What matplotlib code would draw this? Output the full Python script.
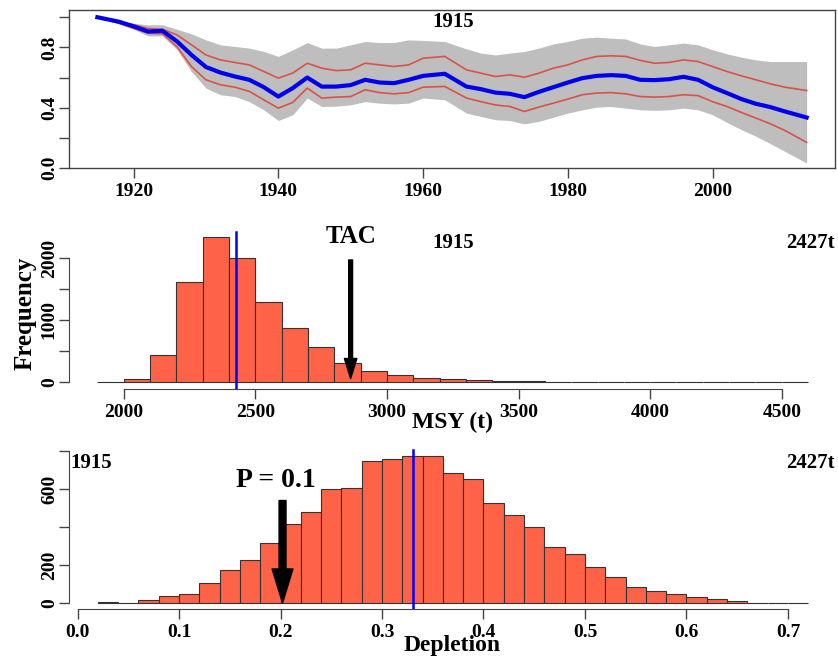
import matplotlib
matplotlib.use("Agg")
import matplotlib.pyplot as plt
import numpy as np

plt.rcParams["font.family"] = ["Liberation Serif", "DejaVu Serif"]
plt.rcParams["font.weight"] = "bold"

# ---- depletion trajectories (fraction of unfished biomass) ----
years = [1915, 1918, 1920, 1922, 1924, 1926, 1928, 1930, 1932, 1934, 1936, 1938,
         1940, 1942, 1944, 1946, 1948, 1950, 1952, 1954, 1956, 1958, 1960, 1963,
         1966, 1968, 1970, 1972, 1974, 1976, 1978, 1980, 1982, 1984, 1986, 1988,
         1990, 1992, 1994, 1996, 1998, 2000, 2002, 2004, 2006, 2008, 2010, 2013]
median = [1.00, 0.97, 0.94, 0.905, 0.91, 0.84, 0.75, 0.67, 0.633, 0.607, 0.585, 0.536,
          0.474, 0.53, 0.60, 0.54, 0.54, 0.55, 0.585, 0.567, 0.563, 0.585, 0.611, 0.625,
          0.54, 0.523, 0.50, 0.492, 0.47, 0.505, 0.536, 0.567, 0.596, 0.611, 0.616, 0.611,
          0.585, 0.583, 0.589, 0.605, 0.585, 0.536, 0.497, 0.457, 0.426, 0.404, 0.375, 0.335]
upper_q = [1.00, 0.965, 0.95, 0.925, 0.92, 0.883, 0.817, 0.75, 0.717, 0.70, 0.684, 0.64,
           0.596, 0.63, 0.695, 0.662, 0.646, 0.651, 0.695, 0.684, 0.673, 0.684, 0.728, 0.74,
           0.651, 0.629, 0.607, 0.618, 0.602, 0.629, 0.662, 0.684, 0.717, 0.74, 0.744, 0.74,
           0.714, 0.695, 0.70, 0.717, 0.706, 0.673, 0.64, 0.611, 0.585, 0.558, 0.536, 0.514]
lower_q = [1.00, 0.96, 0.927, 0.894, 0.89, 0.805, 0.673, 0.585, 0.552, 0.536, 0.508, 0.452,
           0.397, 0.435, 0.53, 0.464, 0.47, 0.474, 0.519, 0.50, 0.492, 0.50, 0.536, 0.541,
           0.464, 0.44, 0.418, 0.408, 0.375, 0.404, 0.43, 0.457, 0.486, 0.497, 0.50, 0.492,
           0.474, 0.47, 0.474, 0.486, 0.48, 0.44, 0.408, 0.368, 0.331, 0.293, 0.249, 0.17]
env_high = [1.00, 0.975, 0.96, 0.95, 0.95, 0.92, 0.89, 0.85, 0.817, 0.806, 0.795, 0.773,
            0.74, 0.784, 0.832, 0.795, 0.795, 0.817, 0.839, 0.832, 0.832, 0.85, 0.846, 0.839,
            0.79, 0.762, 0.75, 0.762, 0.773, 0.795, 0.823, 0.839, 0.861, 0.868, 0.861, 0.856,
            0.823, 0.806, 0.817, 0.828, 0.817, 0.784, 0.757, 0.735, 0.717, 0.706, 0.706, 0.706]
env_low = [1.00, 0.955, 0.92, 0.876, 0.876, 0.784, 0.64, 0.53, 0.486, 0.474, 0.44, 0.386,
           0.315, 0.353, 0.464, 0.408, 0.41, 0.419, 0.44, 0.43, 0.425, 0.43, 0.464, 0.453,
           0.364, 0.342, 0.32, 0.315, 0.293, 0.309, 0.337, 0.364, 0.386, 0.404, 0.408, 0.397,
           0.386, 0.383, 0.386, 0.397, 0.386, 0.353, 0.302, 0.254, 0.21, 0.161, 0.11, 0.033]

# ---- MSY posterior histogram ----
msy_bin_start = 1900
msy_bin_width = 100
msy_counts = [0, 40, 433, 1621, 2350, 2000, 1297, 875, 557, 298, 173, 108, 65, 44, 22, 10, 5,
              0, 0, 0, 0, 0, 0, 0, 0, 0, 0]
msy_median = 2427
tac = 2862

# ---- depletion posterior histogram ----
dep_bin_start = 0.02
dep_bin_width = 0.02
dep_counts = [5, 2, 14, 38, 47, 105, 175, 227, 315, 416, 481, 600, 604, 747, 756, 775, 772,
              682, 651, 525, 463, 402, 292, 257, 187, 136, 84, 61, 47, 29, 21, 12, 2, 0, 0]
dep_median = 0.331
p_level = 0.202

start_year = "1915"
msy_label = "2427t"

W, H = 838, 659
fig = plt.figure(figsize=(W / 100, H / 100), dpi=100)


def rect(left, top, right, bottom):
    return [left / W, 1 - bottom / H, (right - left) / W, (bottom - top) / H]


axis_col = "#444444"
tick_kw = dict(direction="out", length=7.5, width=1.0, color=axis_col, labelsize=14)

# ---------------- top panel: trajectories ----------------
ax1 = fig.add_axes(rect(69, 10, 835, 168))
ax1.fill_between(years, env_low, env_high, color="#BEBEBE", lw=0)
ax1.plot(years, upper_q, color="#D9524A", lw=1.2)
ax1.plot(years, lower_q, color="#D9524A", lw=1.2)
ax1.plot(years, median, color="#0000EE", lw=3.0)
ax1.set_xlim(1911.08, 2016.92)
ax1.set_ylim(0, 1.048)
ax1.set_xticks([1920, 1940, 1960, 1980, 2000])
ax1.set_yticks([0.0, 0.2, 0.4, 0.6, 0.8, 1.0])
ax1.set_yticklabels(["0.0", "", "0.4", "", "0.8", ""], rotation=90, va="center")
ax1.tick_params(**tick_kw)
ax1.tick_params(axis="x", pad=3)
ax1.tick_params(axis="y", pad=0.5)
for s in ax1.spines.values():
    s.set_color(axis_col)
    s.set_linewidth(1.0)
fig.text(453 / W, 1 - 22 / H, start_year, ha="center", va="center", fontsize=15)

# ---------------- middle panel: MSY ----------------
ax2 = fig.add_axes(rect(69, 207, 836.5, 389))
msy_left = msy_bin_start + msy_bin_width * np.arange(len(msy_counts))
ax2.bar(msy_left, msy_counts, width=msy_bin_width, align="edge",
        color="#FF6347", edgecolor="#333333", linewidth=0.8)
ax2.plot([msy_median, msy_median], [-118, 2430], color="#0000FF", lw=1.8)
ax2.set_xlim(1792, 4708)
ax2.set_ylim(-118, 2830)
ax2.set_xticks([2000, 2500, 3000, 3500, 4000, 4500])
ax2.set_yticks([0, 500, 1000, 1500, 2000])
ax2.set_yticklabels(["0", "", "1000", "", "2000"], rotation=90, va="center")
ax2.tick_params(**tick_kw)
ax2.tick_params(axis="x", pad=3)
ax2.tick_params(axis="y", pad=0.5)
for side in ("top", "right"):
    ax2.spines[side].set_visible(False)
ax2.spines["bottom"].set_bounds(2000, 4500)
ax2.spines["left"].set_bounds(0, 2000)
for side in ("bottom", "left"):
    ax2.spines[side].set_color(axis_col)
ax2.annotate("", xy=(tac, 50), xytext=(tac, 1972),
             arrowprops=dict(arrowstyle="simple,head_length=1.45,head_width=0.9,tail_width=0.28",
                             color="black", shrinkA=0, shrinkB=0))
ax2.text(tac, 2350, "TAC", ha="center", va="center", fontsize=18)
fig.text(453 / W, 1 - 243 / H, start_year, ha="center", va="center", fontsize=15)
fig.text(835 / W, 1 - 243 / H, msy_label, ha="right", va="center", fontsize=15)
fig.text(25 / W, 1 - 313 / H, "Frequency", ha="center", va="center", rotation=90, fontsize=18)
fig.text(453 / W, 1 - 422 / H, "MSY (t)", ha="center", va="center", fontsize=17)

# ---------------- bottom panel: depletion ----------------
ax3 = fig.add_axes(rect(69.4, 446.7, 836.7, 609))
dep_left = dep_bin_start + dep_bin_width * np.arange(len(dep_counts))
ax3.bar(dep_left, dep_counts, width=dep_bin_width, align="edge",
        color="#FF6347", edgecolor="#333333", linewidth=0.8)
ax3.plot([dep_median, dep_median], [-31.6, 805], color="#0000FF", lw=1.8)
ax3.set_xlim(-0.008, 0.748)
ax3.set_ylim(-31.6, 822)
ax3.set_xticks([0.0, 0.1, 0.2, 0.3, 0.4, 0.5, 0.6, 0.7])
ax3.set_xticklabels(["0.0", "0.1", "0.2", "0.3", "0.4", "0.5", "0.6", "0.7"])
ax3.set_yticks([0, 200, 400, 600, 800])
ax3.set_yticklabels(["0", "200", "", "600", ""], rotation=90, va="center")
ax3.tick_params(**tick_kw)
ax3.tick_params(axis="x", pad=3)
ax3.tick_params(axis="y", pad=0.5)
for side in ("top", "right"):
    ax3.spines[side].set_visible(False)
ax3.spines["bottom"].set_bounds(0.0, 0.7)
ax3.spines["left"].set_bounds(0, 800)
for side in ("bottom", "left"):
    ax3.spines[side].set_color(axis_col)
ax3.annotate("", xy=(p_level, 0), xytext=(p_level, 539),
             arrowprops=dict(arrowstyle="simple,head_length=2.45,head_width=1.5,tail_width=0.5",
                             color="black", shrinkA=0, shrinkB=0))
ax3.text(p_level - 0.007, 646, "P = 0.1", ha="center", va="center", fontsize=20)
fig.text(70 / W, 1 - 463 / H, start_year, ha="left", va="center", fontsize=15)
fig.text(835 / W, 1 - 463 / H, msy_label, ha="right", va="center", fontsize=15)
fig.text(452 / W, 1 - 645 / H, "Depletion", ha="center", va="center", fontsize=17)

fig.savefig("out.png", dpi=100)
